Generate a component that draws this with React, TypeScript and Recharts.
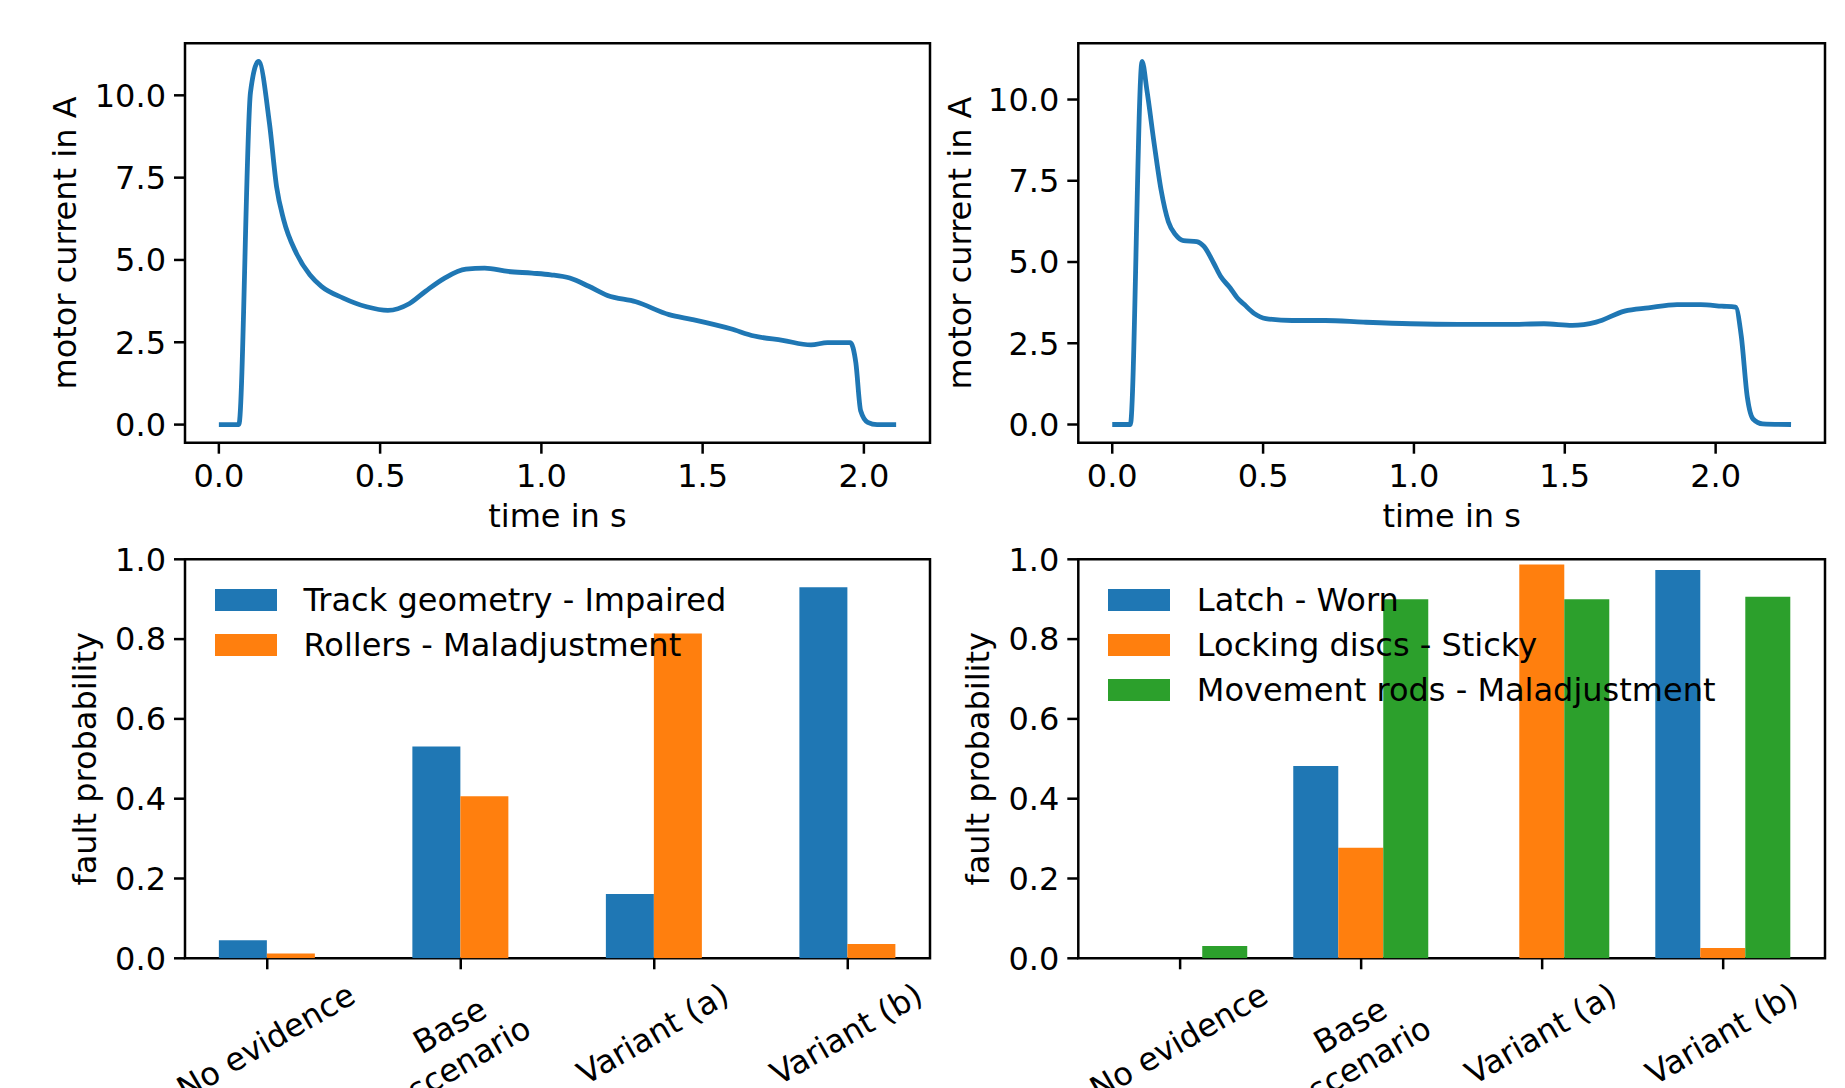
import React from 'react';
import { LineChart, Line, BarChart, Bar, XAxis, YAxis, ReferenceArea, Legend } from 'recharts';

// motor current traces (time in s, current in A)
const timeLeft = [0, 0.062, 0.098, 0.123, 0.157, 0.179, 0.201, 0.24, 0.282, 0.318, 0.384, 0.458, 0.524, 0.59, 0.641, 0.7, 0.766, 0.824, 0.897, 0.971, 1.029, 1.088, 1.147, 1.205, 1.293, 1.396, 1.469, 1.587, 1.66, 1.748, 1.836, 1.887, 1.958, 1.975, 1.99, 2.012, 2.041, 2.1];
const currentLeft = [0, 0, 10.09, 11.03, 9.14, 7.22, 6.22, 5.21, 4.55, 4.2, 3.85, 3.58, 3.47, 3.67, 4.05, 4.45, 4.72, 4.75, 4.65, 4.6, 4.55, 4.45, 4.2, 3.92, 3.73, 3.34, 3.19, 2.91, 2.69, 2.56, 2.42, 2.49, 2.49, 1.88, 0.42, 0.07, 0, 0];

const timeRight = [0, 0.06, 0.099, 0.115, 0.139, 0.162, 0.186, 0.21, 0.236, 0.28, 0.304, 0.336, 0.359, 0.391, 0.414, 0.438, 0.47, 0.509, 0.596, 0.706, 0.832, 0.989, 1.147, 1.305, 1.431, 1.525, 1.604, 1.698, 1.777, 1.872, 1.951, 2.021, 2.066, 2.085, 2.105, 2.124, 2.156, 2.25];
const currentRight = [0, 0, 11.17, 10.28, 8.64, 7.21, 6.24, 5.84, 5.66, 5.63, 5.48, 4.97, 4.56, 4.2, 3.9, 3.69, 3.42, 3.26, 3.2, 3.2, 3.15, 3.1, 3.08, 3.08, 3.1, 3.05, 3.15, 3.49, 3.59, 3.69, 3.69, 3.64, 3.61, 2.72, 0.84, 0.17, 0.02, 0];

const timeTicks = [0, 0.5, 1, 1.5, 2];
const currentTicks = [0, 2.5, 5, 7.5, 10];
const probTicks = [0, 0.2, 0.4, 0.6, 0.8, 1];

const scenarios = ['No evidence', 'Base\nscenario', 'Variant (a)', 'Variant (b)'];

// fault probabilities per scenario
const trackGeometry = [0.045, 0.531, 0.161, 0.93];
const rollers = [0.012, 0.406, 0.814, 0.036];
const latch = [0, 0.482, 0, 0.973];
const lockingDiscs = [0, 0.277, 0.987, 0.026];
const movementRods = [0.031, 0.9, 0.9, 0.906];

const BLUE = '#1f77b4';
const ORANGE = '#ff7f0e';
const GREEN = '#2ca02c';

const leftSeries = [
  { name: 'Track geometry - Impaired', color: BLUE, values: trackGeometry },
  { name: 'Rollers - Maladjustment', color: ORANGE, values: rollers },
];
const rightSeries = [
  { name: 'Latch - Worn', color: BLUE, values: latch },
  { name: 'Locking discs - Sticky', color: ORANGE, values: lockingDiscs },
  { name: 'Movement rods - Maladjustment', color: GREEN, values: movementRods },
];

const W = 1845;
const H = 1088;
const FONT = '"DejaVu Sans", sans-serif';
const FS = 32;
const Y_AXIS_W = 100;
const X_AXIS_H = 60;

const COLS = [
  { left: 185, right: 930 },
  { left: 1078.3, right: 1825 },
];
const ROWS = [
  { top: 43.3, bottom: 442.7 },
  { top: 559.3, bottom: 958.3 },
];

const marginFor = (c: { left: number; right: number }, r: { top: number; bottom: number }) => ({
  top: r.top,
  left: c.left - Y_AXIS_W,
  right: W - c.right,
  bottom: H - r.bottom - X_AXIS_H,
});

const fmt1 = (v: number) => v.toFixed(1);

const axisStyle = {
  stroke: '#000',
  axisLine: false,
  tickLine: { stroke: '#000', strokeWidth: 2.5 },
  tickSize: 11,
  tick: { fill: '#000', fontSize: FS, fontFamily: FONT },
};

let measureCtx: CanvasRenderingContext2D | null = null;
const measure = (s: string) => {
  if (!measureCtx) measureCtx = document.createElement('canvas').getContext('2d');
  if (!measureCtx) return s.length * FS * 0.6;
  measureCtx.font = `${FS}px "DejaVu Sans"`;
  return measureCtx.measureText(s).width;
};

// x tick labels rotated by 30 degrees, centred on the tick like matplotlib does
const SlantTick = (props: any) => {
  const { x, y, payload } = props;
  const lines = scenarios[payload.value].split('\n');
  const w = Math.max(...lines.map(measure));
  const lh = FS;
  const step = lh * 1.2;
  const h = lh + step * (lines.length - 1);
  const cy = y + (w * 0.5 + h * 0.866) / 2;
  return (
    <g transform={`translate(${x},${cy}) rotate(-30)`}>
      <text textAnchor="middle" fill="#000" fontSize={FS} fontFamily={FONT}>
        {lines.map((l, i) => (
          <tspan key={i} x={0} y={-h / 2 + i * step + 0.76 * FS}>
            {l}
          </tspan>
        ))}
      </text>
    </g>
  );
};

const LegendList = ({ series }: { series: { name: string; color: string }[] }) => (
  <div style={{ fontFamily: FONT, fontSize: FS, color: '#000', whiteSpace: 'nowrap' }}>
    {series.map((s) => (
      <div key={s.name} style={{ display: 'flex', alignItems: 'center', height: 45 }}>
        <div style={{ width: 62, height: 22, background: s.color }} />
        <span style={{ marginLeft: 26.5 }}>{s.name}</span>
      </div>
    ))}
  </div>
);

const CurrentPanel = ({ time, current, col, xDomain, yDomain, titleX }: any) => {
  const c = COLS[col];
  const r = ROWS[0];
  const data = time.map((t: number, i: number) => ({ t, i: current[i] }));
  const midX = (c.left + c.right) / 2;
  const midY = (r.top + r.bottom) / 2;
  return (
    <div style={{ position: 'absolute', left: 0, top: 0 }}>
      <LineChart width={W} height={H} data={data} margin={marginFor(c, r)}>
        <XAxis type="number" dataKey="t" domain={xDomain} allowDataOverflow ticks={timeTicks} tickFormatter={fmt1} height={X_AXIS_H} tickMargin={11} {...axisStyle} />
        <YAxis type="number" domain={yDomain} allowDataOverflow ticks={currentTicks} tickFormatter={fmt1} width={Y_AXIS_W} tickMargin={8} {...axisStyle} />
        <Line dataKey="i" type="monotoneX" stroke={BLUE} strokeWidth={4.8} strokeLinejoin="round" dot={false} activeDot={false} isAnimationActive={false} />
        <ReferenceArea x1={xDomain[0]} x2={xDomain[1]} y1={yDomain[0]} y2={yDomain[1]} fill="none" fillOpacity={0} stroke="#000" strokeWidth={2.5} />
        <text x={midX} y={527} textAnchor="middle" fill="#000" fontSize={FS} fontFamily={FONT}>
          time in s
        </text>
        <text x={titleX} y={midY} transform={`rotate(-90 ${titleX} ${midY})`} textAnchor="middle" fill="#000" fontSize={FS} fontFamily={FONT}>
          motor current in A
        </text>
      </LineChart>
    </div>
  );
};

const FaultPanel = ({ series, col, xDomain, gap, titleX }: any) => {
  const c = COLS[col];
  const r = ROWS[1];
  const rows = scenarios.map((s, i) => {
    const o: any = { pos: i, scenario: s };
    series.forEach((sr: any, k: number) => {
      o['s' + k] = sr.values[i];
    });
    return o;
  });
  const midY = (r.top + r.bottom) / 2;
  return (
    <div style={{ position: 'absolute', left: 0, top: 0 }}>
      <BarChart width={W} height={H} data={rows} margin={marginFor(c, r)} barCategoryGap={gap} barGap={0}>
        <XAxis type="number" dataKey="pos" domain={xDomain} allowDataOverflow ticks={[0, 1, 2, 3]} height={X_AXIS_H} tickMargin={11} {...axisStyle} tick={(p: any) => <SlantTick {...p} />} />
        <YAxis type="number" domain={[0, 1]} allowDataOverflow ticks={probTicks} tickFormatter={fmt1} width={Y_AXIS_W} tickMargin={8} {...axisStyle} />
        {series.map((sr: any, k: number) => (
          <Bar key={sr.name} dataKey={'s' + k} name={sr.name} fill={sr.color} isAnimationActive={false} />
        ))}
        <ReferenceArea x1={xDomain[0]} x2={xDomain[1]} y1={0} y2={1} fill="none" fillOpacity={0} stroke="#000" strokeWidth={2.5} />
        <Legend
          layout="vertical"
          align="center"
          verticalAlign="middle"
          wrapperStyle={{ left: c.left + 30, top: 577, width: 'auto', height: 'auto' }}
          content={() => <LegendList series={series} />}
        />
        <text x={titleX} y={midY} transform={`rotate(-90 ${titleX} ${midY})`} textAnchor="middle" fill="#000" fontSize={FS} fontFamily={FONT}>
          fault probability
        </text>
      </BarChart>
    </div>
  );
};

export default function App() {
  return (
    <div style={{ position: 'absolute', left: 0, top: 0, width: W, height: H, background: '#fff', fontFamily: FONT, overflow: 'hidden' }}>
      <CurrentPanel time={timeLeft} current={currentLeft} col={0} xDomain={[-0.105, 2.205]} yDomain={[-0.55, 11.58]} titleX={76} />
      <CurrentPanel time={timeRight} current={currentRight} col={1} xDomain={[-0.1125, 2.3625]} yDomain={[-0.56, 11.73]} titleX={970.5} />
      <FaultPanel series={leftSeries} col={0} xDomain={[-0.425, 3.425]} gap="25%" titleX={96} />
      <FaultPanel series={rightSeries} col={1} xDomain={[-0.5625, 3.5625]} gap="12.5%" titleX={989.5} />
    </div>
  );
}
